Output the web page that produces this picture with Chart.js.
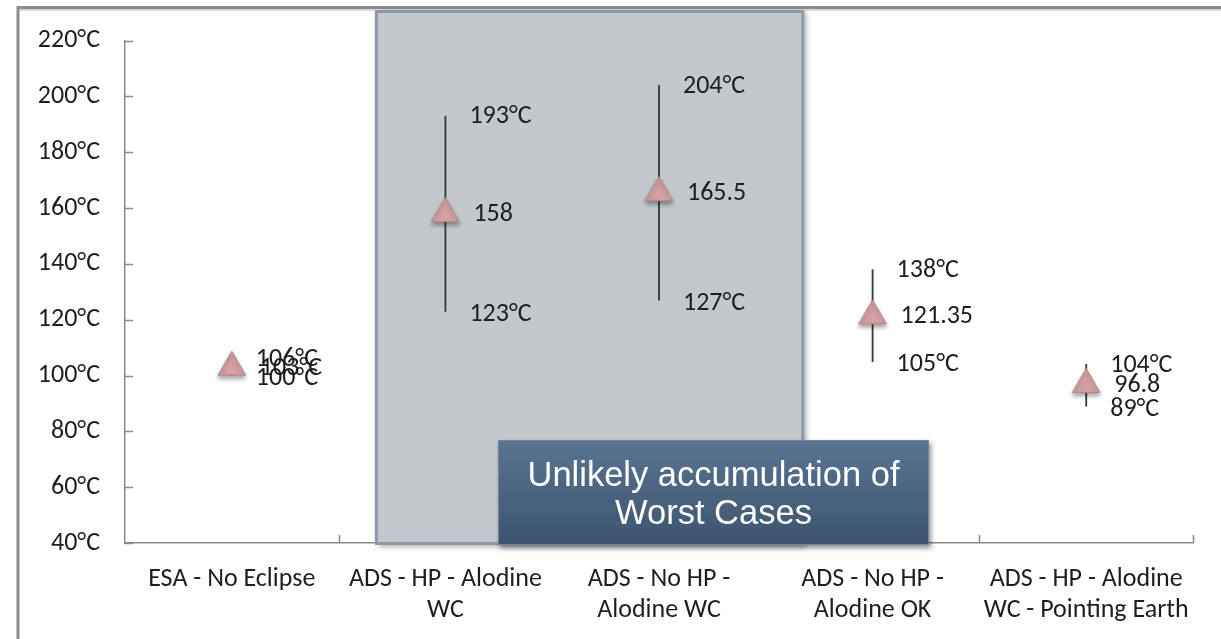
<!DOCTYPE html>
<html>
<head>
<meta charset="utf-8">
<script src="https://cdn.jsdelivr.net/npm/chart.js@4"></script>
<style>
  html, body { margin: 0; padding: 0; background: #fff; }
  #wrap { position: relative; width: 1221px; height: 639px; overflow: hidden; }
  #chart { position: absolute; left: 0; top: 0; }
  #callout {
    position: absolute; left: 498px; top: 440px; width: 431px; height: 105px;
    box-sizing: border-box;
    background: linear-gradient(#587592, #3d546e);
    border: 1px solid #6f88a2;
    box-shadow: 2px 3px 5px rgba(0, 0, 0, 0.45);
    color: #fff;
    font-family: "Liberation Sans", Arial, sans-serif;
    font-size: 34.5px; line-height: 38px;
    display: flex; align-items: center; justify-content: center; text-align: center;
  }
</style>
</head>
<body>
<div id="wrap">
  <canvas id="chart" width="1221" height="639"></canvas>
  <div id="callout">Unlikely accumulation of<br>Worst Cases</div>
</div>
<script>
const categories = [
  'ESA - No Eclipse',
  ['ADS - HP - Alodine', 'WC'],
  ['ADS - No HP -', 'Alodine WC'],
  ['ADS - No HP -', 'Alodine OK'],
  ['ADS - HP - Alodine', 'WC - Pointing Earth']
];
const highTemps = [106, 193, 204, 138, 104];
const lowTemps = [100, 123, 127, 105, 89];
const meanTemps = [103, 158, 165.5, 121.35, 96.8];
const meanLabels = ['103°C', '158', '165.5', '121.35', '96.8'];
const yTicks = [40, 60, 80, 100, 120, 140, 160, 180, 200, 220];

// shaded "worst case" zone, in category index units
const highlightFrom = 0.67;
const highlightTo = 2.68;

const FONT = 'Carlito, Lato, sans-serif';
const TEXT = '#1e1e1e';
const AXIS = '#8a8a8a';

const frame = {
  id: 'frame',
  beforeDraw(chart) {
    const ctx = chart.ctx;
    ctx.save();
    ctx.strokeStyle = '#d8d8d8';
    ctx.lineWidth = 2;
    ctx.beginPath();
    ctx.moveTo(20, 10); ctx.lineTo(1221, 10);
    ctx.stroke();
    ctx.strokeStyle = '#8c8c8c';
    ctx.lineWidth = 3;
    ctx.beginPath();
    ctx.moveTo(18, 639); ctx.lineTo(18, 7.5); ctx.lineTo(1221, 7.5);
    ctx.stroke();
    ctx.restore();
  }
};

const axisTicks = {
  id: 'axisTicks',
  beforeDatasetsDraw(chart) {
    const { ctx, scales: { x, y }, chartArea } = chart;
    ctx.save();
    ctx.strokeStyle = AXIS;
    ctx.lineWidth = 1.5;
    ctx.beginPath();
    yTicks.forEach(v => {
      const py = Math.round(y.getPixelForValue(v)) + 0.5;
      ctx.moveTo(chartArea.left, py);
      ctx.lineTo(chartArea.left + 8, py);
    });
    for (let i = 1; i <= categories.length; i++) {
      const px = Math.round(x.getPixelForValue(i - 0.5)) + 0.5;
      ctx.moveTo(px, chartArea.bottom);
      ctx.lineTo(px, chartArea.bottom - 8);
    }
    ctx.stroke();

    // highlight box drawn over the axis, under the data
    const x0 = x.getPixelForValue(highlightFrom);
    const x1 = x.getPixelForValue(highlightTo);
    const y0 = 10;
    const y1 = chartArea.bottom + 2;
    ctx.shadowColor = 'rgba(0,0,0,0.3)';
    ctx.shadowBlur = 5;
    ctx.shadowOffsetX = 3;
    ctx.shadowOffsetY = 2;
    ctx.fillStyle = '#c3c8cd';
    ctx.fillRect(x0, y0, x1 - x0, y1 - y0);
    ctx.shadowColor = 'transparent';
    ctx.strokeStyle = '#8d99aa';
    ctx.lineWidth = 3;
    ctx.strokeRect(x0 + 1.5, y0 + 1.5, x1 - x0 - 3, y1 - y0 - 3);
    ctx.restore();
  }
};

const markerShadow = {
  id: 'markerShadow',
  beforeDatasetDraw(chart, args) {
    if (args.index !== 0) return;
    const ctx = chart.ctx;
    ctx.save();
    ctx.shadowColor = 'rgba(0,0,0,0.35)';
    ctx.shadowBlur = 4;
    ctx.shadowOffsetY = 3;
  },
  afterDatasetDraw(chart, args) {
    if (args.index !== 0) return;
    chart.ctx.restore();
  }
};

const valueLabels = {
  id: 'valueLabels',
  afterDatasetsDraw(chart) {
    const { ctx, scales: { x, y } } = chart;
    ctx.save();
    ctx.font = '26px ' + FONT;
    ctx.fillStyle = TEXT;
    ctx.textAlign = 'left';
    ctx.textBaseline = 'middle';
    categories.forEach((c, i) => {
      const px = x.getPixelForValue(i);
      ctx.fillText(highTemps[i] + '°C', px + 24, y.getPixelForValue(highTemps[i]) + 1);
      ctx.fillText(lowTemps[i] + '°C', px + 24, y.getPixelForValue(lowTemps[i]) + 3);
      ctx.fillText(meanLabels[i], px + 28, y.getPixelForValue(meanTemps[i]) + 1);
    });
    ctx.restore();
  }
};

const ctx = document.getElementById('chart').getContext('2d');
const chart = new Chart(ctx, {
  type: 'bar',
  data: {
    labels: categories,
    datasets: [
      {
        type: 'line',
        label: 'Mean',
        data: meanTemps,
        showLine: false,
        pointStyle: 'triangle',
        pointRadius: 16,
        pointHoverRadius: 16,
        backgroundColor: '#d3a0a3',
        borderColor: '#b4888b',
        borderWidth: 1,
        order: 0
      },
      {
        label: 'Range',
        data: lowTemps.map((lo, i) => [lo, highTemps[i]]),
        backgroundColor: '#3a3a3a',
        borderWidth: 0,
        barThickness: 1.2,
        order: 1
      }
    ]
  },
  options: {
    responsive: false,
    devicePixelRatio: 1,
    animation: false,
    layout: { padding: { top: 37, right: 28, left: 0, bottom: 0 } },
    plugins: {
      legend: { display: false },
      tooltip: { enabled: false }
    },
    scales: {
      y: {
        min: 40,
        max: 220,
        afterBuildTicks: s => { s.ticks = yTicks.map(v => ({ value: v })); },
        afterFit: s => { s.width = 125; },
        ticks: {
          callback: v => v + '°C',
          font: { family: FONT, size: 26 },
          color: TEXT,
          padding: 25
        },
        grid: { drawOnChartArea: false, drawTicks: false },
        border: { color: AXIS, width: 1.5 }
      },
      x: {
        afterFit: s => { s.height = 96; },
        ticks: {
          font: { family: FONT, size: 26, lineHeight: 1.2 },
          color: TEXT,
          padding: 21,
          maxRotation: 0,
          autoSkip: false
        },
        grid: { drawOnChartArea: false, drawTicks: false },
        border: { color: AXIS, width: 1.5 }
      }
    }
  },
  plugins: [frame, axisTicks, markerShadow, valueLabels]
});
</script>
</body>
</html>
